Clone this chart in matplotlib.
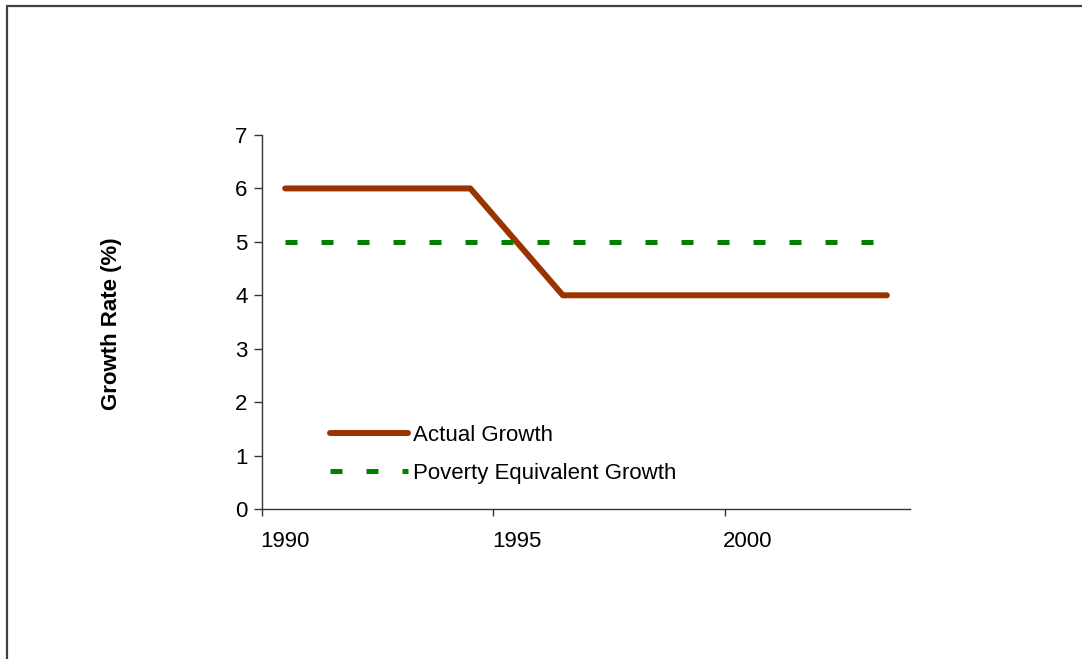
import matplotlib.pyplot as plt
import matplotlib.patches as patches
from matplotlib.ticker import FixedLocator, NullFormatter, FixedFormatter

plt.rcParams['font.family'] = ['Liberation Sans', 'DejaVu Sans']

years = [1990, 1991, 1992, 1993, 1994, 1995, 1996, 1997, 1998, 1999, 2000, 2001, 2002, 2003]
actual = [6, 6, 6, 6, 6, 5, 4, 4, 4, 4, 4, 4, 4, 4]
poverty = [5] * len(years)
labels = ['1990', '1995', '2000']
label_years = [1990, 1995, 2000]

W, H = 1082, 659
fig = plt.figure(figsize=(W / 100, H / 100), dpi=100)
ax = fig.add_axes([262 / W, 1 - 509 / H, (910 - 262) / W, (509 - 135) / H])

ax.plot(years, actual, color='#993300', lw=4.3, solid_capstyle='round',
        solid_joinstyle='round', label='Actual Growth')
ax.plot(years, poverty, color='#008000', lw=3.6, dashes=(2.4, 4.8),
        dash_capstyle='butt', label='Poverty Equivalent Growth')

ax.set_xlim(years[0] - 0.5, years[-1] + 0.5)
ax.set_ylim(0, 7)
ax.set_yticks(range(0, 8))

# tick marks sit between categories, labels centred on the category
ax.xaxis.set_major_locator(FixedLocator([y - 0.5 for y in label_years]))
ax.xaxis.set_major_formatter(NullFormatter())
ax.xaxis.set_minor_locator(FixedLocator(label_years))
ax.xaxis.set_minor_formatter(FixedFormatter(labels))
ax.tick_params(axis='x', which='minor', length=0, labelsize=16, pad=16)
ax.tick_params(axis='x', which='major', length=5, width=1, color='#333333')
ax.tick_params(axis='y', length=6, width=1, color='#333333', labelsize=16, pad=4.5)

for s in ['top', 'right']:
    ax.spines[s].set_visible(False)
for s in ['left', 'bottom']:
    ax.spines[s].set_color('#333333')
    ax.spines[s].set_linewidth(1)

fig.text(112 / W, 1 - 324 / H, 'Growth Rate (%)', rotation=90, ha='center',
         va='center', fontsize=16, fontweight='bold')

ax.legend(loc='upper left', bbox_to_anchor=(330 / W, 1 - 425 / H),
          bbox_transform=fig.transFigure, frameon=False, fontsize=16,
          handlelength=3.5, handletextpad=0.22, labelspacing=0.75,
          borderaxespad=0, borderpad=0)

fig.add_artist(patches.Rectangle((6.5 / W, -0.1), 1.2, 1.1 - 5.5 / H,
                                 transform=fig.transFigure, fill=False,
                                 edgecolor='#404040', lw=1.6))

fig.savefig('out.png', dpi=100)
